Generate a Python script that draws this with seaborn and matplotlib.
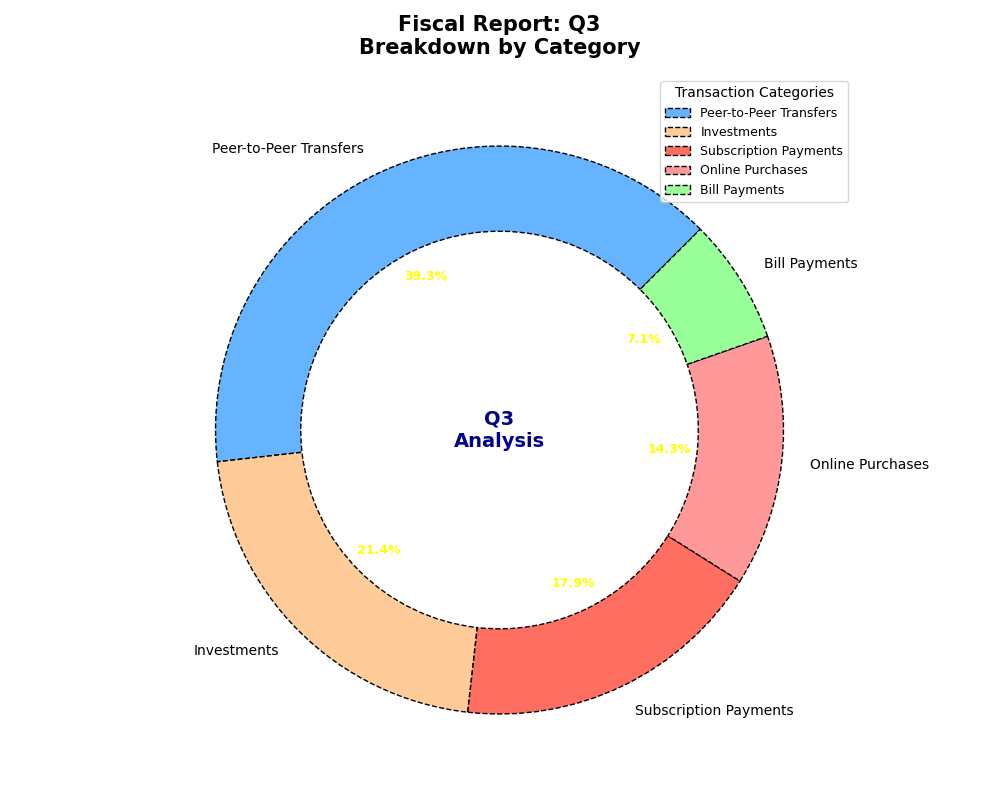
import matplotlib
matplotlib.use("Agg")
import matplotlib.pyplot as plt
import seaborn as sns

sns.set_style("white")
plt.rcParams['font.family'] = ['DejaVu Sans']
plt.rcParams['text.color'] = 'black'
plt.rcParams['axes.labelcolor'] = 'black'

categories = ["Peer-to-Peer Transfers", "Investments", "Subscription Payments",
              "Online Purchases", "Bill Payments"]
values = [55, 30, 25, 20, 10]
colors = ["#66b3ff", "#ffcc99", "#ff6f61", "#ff9999", "#99ff99"]

fig, ax = plt.subplots(figsize=(10, 8), dpi=100)
wedges, texts, autotexts = ax.pie(
    values, labels=categories, colors=colors, autopct="%1.1f%%",
    startangle=45, pctdistance=0.6, labeldistance=1.1,
    wedgeprops=dict(width=0.3, edgecolor="black", linestyle="--", linewidth=1),
)
for t in autotexts:
    t.set_color("yellow")
    t.set_fontsize(9)
    t.set_fontweight("bold")
for t in texts:
    t.set_fontsize(10)
    t.set_color("black")

ax.text(0, 0, "Q3\nAnalysis", ha="center", va="center", fontsize=14,
        fontweight="bold", color="darkblue")
ax.set_title("Fiscal Report: Q3\nBreakdown by Category", fontsize=15,
             fontweight="bold", color="black", pad=15)
ax.legend(wedges, categories, title="Transaction Categories", loc="upper right",
          fontsize=9, title_fontsize=10)
ax.set_aspect("equal")
plt.tight_layout()
plt.savefig("out.png")
